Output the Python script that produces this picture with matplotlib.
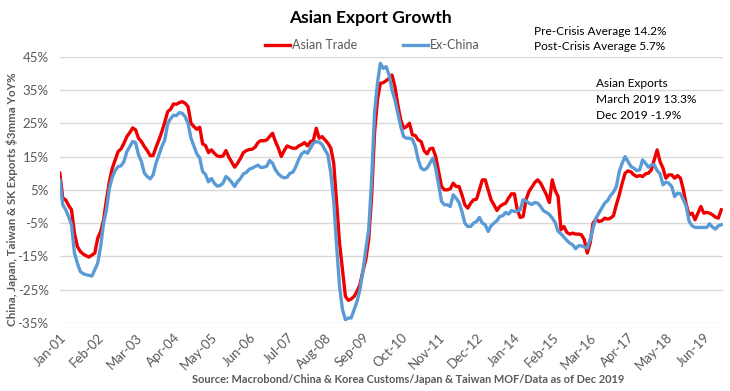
import matplotlib
matplotlib.use('Agg')
import matplotlib.pyplot as plt
import pandas as pd

plt.rcParams['font.family'] = ['Lato', 'DejaVu Sans']

# monthly, Jan-2001 .. Dec-2019 (3mma YoY %)
asian_trade = [
    10, 2.5, 2, 0.3, -1, -8, -12, -13.5, -14.3, -14.8, -15.2, -14.6,          # 2001
    -14, -9.5, -7.5, -4, 2, 7.5, 11.5, 14, 16.5, 17.3, 19, 21,                # 2002
    22.2, 23.6, 23, 20.5, 19.5, 18, 16.8, 15.3, 15.3, 17.8, 20, 22.5,         # 2003
    25.3, 28.5, 29.2, 30.8, 30.7, 31.2, 31.5, 31, 30, 25, 24, 23.2,           # 2004
    23.8, 18.8, 18.3, 16.2, 17, 16, 15.2, 15, 15.2, 16.8, 14.8, 13.3,         # 2005
    11.8, 13, 14.5, 16.2, 16.8, 17.1, 17.2, 17.8, 19.2, 19.8, 19.7, 20,       # 2006
    21, 22, 19.5, 17.5, 15, 16.8, 18.2, 17.8, 17.5, 17.5, 18.2, 18.6,         # 2007
    19.2, 18.2, 19.5, 19.8, 23.5, 20.5, 21, 20, 19, 17.5, 13, 1,              # 2008
    -11, -19, -27, -28.2, -27.8, -27, -25.5, -23.5, -19.5, -16, -10, 3,       # 2009
    22, 32, 37, 37.2, 37.8, 38.5, 39.5, 36, 30.5, 26, 23.5, 24,               # 2010
    25, 21.5, 21.3, 20, 19.5, 16.8, 15.8, 17.3, 17.5, 15, 10.5, 6,            # 2011
    5, 5, 5.3, 7, 6, 6, 3.5, 0.5, -0.5, 1, 2, 2.2,                            # 2012
    5, 8, 8, 5, 2, 0.5, -1.2, 0, 0.6, 1, 2.5, 3.8,                            # 2013
    3.8, -1, -3.3, -3, 2, 4.5, 5.8, 7.2, 8, 7, 5.3, 3.5,                      # 2014
    1.2, 8, 4.8, 3, -7, -6, -7.8, -8.3, -8, -8.3, -8.3, -8.5,                 # 2015
    -10, -14, -11, -5, -3.8, -4.5, -4.3, -3.5, -3.8, -3.5, -2.8, 0.5,         # 2016
    3.5, 7, 10, 10.7, 10.4, 9.5, 9, 9.3, 9, 9.8, 10, 11,                      # 2017
    14, 17, 13.5, 11.5, 8.5, 9.5, 9.5, 8.5, 9.3, 8.5, 5, 0.5,                 # 2018
    -2.5, -2, -4, -2, 0, -2, -1.8, -2, -2.5, -3.2, -3.5, -1,                  # 2019
]

ex_china = [
    8, 0.5, -1, -3, -5.5, -14, -17, -19.5, -20.2, -20.5, -20.7, -20.9,        # 2001
    -19, -17, -12, -5, -1, 5.5, 8.8, 10.8, 12, 12.2, 13.5, 16.5,              # 2002
    18, 19.5, 19.2, 15.5, 13.5, 10, 9, 8.3, 9.5, 13, 15.5, 18,                # 2003
    20, 24.8, 26.4, 27.4, 27.3, 28.2, 28, 27, 25, 20.5, 18.2, 15.8,           # 2004
    14.6, 10.5, 9.6, 7.4, 8.4, 7, 6.1, 6.3, 7, 9, 8.3, 7.2,                   # 2005
    6, 7.5, 8.4, 9.8, 10.2, 11.2, 11.5, 12, 12.4, 11.7, 11.8, 12.1,           # 2006
    13.8, 13, 11, 9.8, 9, 8.6, 8.8, 10, 10.3, 12, 14.2, 15.8,                 # 2007
    16.5, 16, 17.5, 19, 19.5, 19.3, 18.6, 17, 15.5, 10, 1.5, -12,             # 2008
    -24, -31, -34, -33.5, -33.5, -31, -28.5, -25, -19.5, -13, -7, 8,          # 2009
    28, 37, 43, 41.5, 42, 39.5, 35, 32, 28, 24, 21, 20.5,                     # 2010
    20.5, 20.2, 18, 14, 11.5, 11, 11.5, 13, 14.5, 11.5, 6.5, 1.5,             # 2011
    0.5, 0.5, 0, 3.5, 2.5, 1.2, -1.5, -5, -6, -6, -5, -4.5,                   # 2012
    -3.3, -5, -5.5, -7.5, -5.8, -5, -4.3, -3, -2.8, -1.8, -2.3, -1.2,         # 2013
    -1.5, -1.4, -1, 2, 1.7, 1, 0.6, 1.2, 1, 0, -1.3, -1.8,                    # 2014
    -2.4, -3.5, -4.8, -7.5, -8.2, -9.2, -10.2, -11, -11.5, -12.7, -11.8, -11.8,  # 2015
    -12.2, -12.5, -10, -6.5, -3.5, -2, -0.5, 1, 1.8, 3.3, 4.3, 6,             # 2016
    10.5, 13, 15, 13.5, 12, 11.5, 10.8, 11, 14, 13, 11.8, 12.5,               # 2017
    12.5, 10.8, 9.8, 6.5, 7.3, 7, 6, 3, 4, 3.8, 2, 0,                         # 2018
    -4.5, -5.8, -6.3, -6.3, -6.3, -6.3, -6.3, -5.2, -6.2, -6.8, -5.8, -5.5,   # 2019
]

months = pd.date_range('2001-01-01', periods=len(asian_trade), freq='MS')
month_labels = [d.strftime('%b-%y') for d in months]
tick_step = 13

grey = '#595959'

fig = plt.figure(figsize=(7.30, 3.91), dpi=100)
ax = fig.add_axes([0.082, 0.174, 0.908, 0.681])

x = list(range(len(asian_trade)))
ax.plot(x, asian_trade, color='#EE0000', lw=2.4, label='Asian Trade', solid_joinstyle='round')
ax.plot(x, ex_china, color='#5B9BD5', lw=2.4, label='Ex-China', solid_joinstyle='round')

ax.set_ylim(-35, 45)
ax.set_yticks(range(-35, 46, 10))
ax.set_yticklabels([f'{v}%' for v in range(-35, 46, 10)])
ax.set_xlim(0, 227.5)
ticks = x[::tick_step]
ax.set_xticks(ticks)
ax.set_xticklabels([month_labels[i] for i in ticks], rotation=45, ha='right',
                   rotation_mode='anchor')
ax.tick_params(axis='both', length=0, colors=grey, labelsize=9.5)
ax.tick_params(axis='y', pad=8)
ax.tick_params(axis='x', pad=6)
for s in ax.spines.values():
    s.set_visible(False)
ax.grid(axis='y', color='#D9D9D9', lw=1)
ax.set_axisbelow(True)

fig.text(0.016, 0.49, r'China, Japan, Taiwan & SK Exports \$3mma YoY%', color=grey,
         fontsize=8.3, fontweight='bold', rotation=90, ha='center', va='center')

fig.text(0.507, 0.955, 'Asian Export Growth', ha='center', va='center',
         fontsize=12.5, fontweight='bold')
fig.text(0.559, 0.016, 'Source: Macrobond/China & Korea Customs/Japan & Taiwan MOF/Data as of Dec 2019',
         ha='center', va='bottom', fontsize=7.9, fontweight='bold', color=grey)

fig.text(0.731, 0.92, 'Pre-Crisis Average 14.2%', fontsize=8.6, va='center')
fig.text(0.731, 0.882, 'Post-Crisis Average 5.7%', fontsize=8.6, va='center')
fig.text(0.816, 0.787, 'Asian Exports', fontsize=8.6, va='center')
fig.text(0.816, 0.746, 'March 2019 13.3%', fontsize=8.6, va='center')
fig.text(0.816, 0.705, 'Dec 2019 -1.9%', fontsize=8.6, va='center')

leg = fig.legend(loc='center', bbox_to_anchor=(0.51, 0.884), ncol=2, frameon=False,
                 fontsize=9, handlelength=2.0, handletextpad=0.2, columnspacing=3.6)
for t in leg.get_texts():
    t.set_color(grey)

plt.savefig('out.png', dpi=100)
